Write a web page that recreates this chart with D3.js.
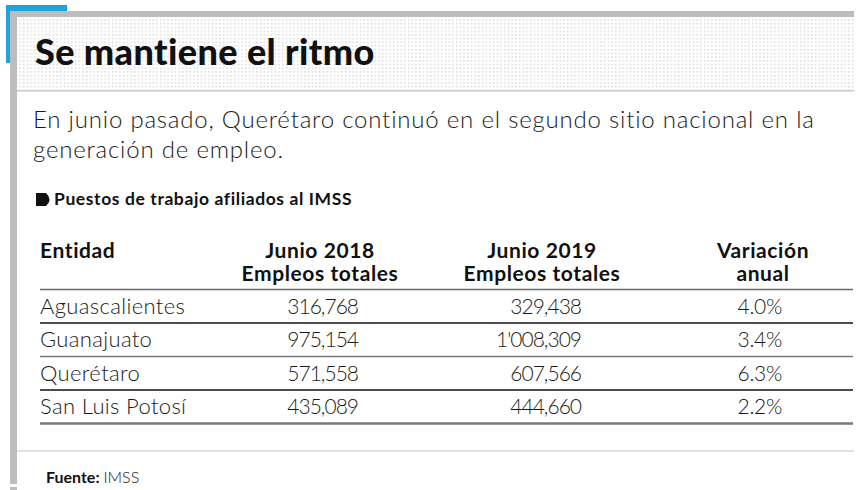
<!DOCTYPE html>
<html><head><meta charset="utf-8">
<script src="https://cdn.jsdelivr.net/npm/d3@7"></script>
<style>
html,body{margin:0;padding:0;background:#fff;}
svg{display:block;}
text{font-family:Lato,"Open Sans",sans-serif;}
</style></head>
<body><div id="chart"></div>
<script>
const titulo = "Se mantiene el ritmo";
const subtitulo = ["En junio pasado, Querétaro continuó en el segundo sitio nacional en la", "generación de empleo."];
const etiqueta = "Puestos de trabajo afiliados al IMSS";
const encabezados = [["Entidad"], ["Junio 2018", "Empleos totales"], ["Junio 2019", "Empleos totales"], ["Variación", "anual"]];
const entidades = ["Aguascalientes", "Guanajuato", "Querétaro", "San Luis Potosí"];
const empleos2018 = [316768, 975154, 571558, 435089];
const empleos2019 = [329438, 1008309, 607566, 444660];
const variacion = [4.0, 3.4, 6.3, 2.2];
const fuente = "IMSS";

const W = 864, H = 490;
const svg = d3.select("#chart").append("svg").attr("width", W).attr("height", H);

const defs = svg.append("defs");
const pat = defs.append("pattern").attr("id", "dots").attr("patternUnits", "userSpaceOnUse")
  .attr("width", 3.7).attr("height", 3.7);
pat.append("rect").attr("x", 1).attr("y", 1).attr("width", 1.2).attr("height", 1.2).attr("fill", "#c4c4c4");

// frame
svg.append("rect").attr("x", 6).attr("y", 5).attr("width", 61).attr("height", 58).attr("fill", "#1ea4dc");
svg.append("rect").attr("x", 10).attr("y", 11).attr("width", 844).attr("height", 6).attr("fill", "#bdbdbd");
svg.append("rect").attr("x", 10).attr("y", 11).attr("width", 7).attr("height", 473).attr("fill", "#bdbdbd");
svg.append("rect").attr("x", 17).attr("y", 17).attr("width", 837).attr("height", 74).attr("fill", "#fff");
svg.append("rect").attr("x", 17).attr("y", 17).attr("width", 837).attr("height", 74).attr("fill", "url(#dots)");
svg.append("rect").attr("x", 17).attr("y", 90).attr("width", 837).attr("height", 1.5).attr("fill", "#c8c8c8");
svg.append("rect").attr("x", 10).attr("y", 487).attr("width", 7).attr("height", 3).attr("fill", "#bdbdbd");

svg.append("text").attr("x", 35).attr("y", 65).attr("font-size", 36).attr("font-weight", 900)
  .attr("letter-spacing", 0.4).attr("fill", "#111").text(titulo);

svg.selectAll("text.sub").data(subtitulo).join("text").attr("class", "sub")
  .attr("x", 33).attr("y", (d, i) => 128 + i * 30).attr("font-size", 24).attr("font-weight", 300)
  .attr("letter-spacing", 0.8).attr("fill", "#1a1a1a").text(d => d);

svg.append("path").attr("d", "M36,193 H46 Q53,199.5 46,206 H36 Z").attr("fill", "#111");
svg.append("text").attr("x", 54).attr("y", 205).attr("font-size", 17.5).attr("font-weight", 700)
  .attr("letter-spacing", 0.6).attr("fill", "#111").text(etiqueta);

// columns
const colX = d3.scaleOrdinal().domain([0, 1, 2, 3]).range([40, 320, 542, 763]);
const colVal = d3.scaleOrdinal().domain([1, 2, 3]).range([358, 581, 782]);

encabezados.forEach((lines, c) => {
  lines.forEach((l, i) => {
    svg.append("text").attr("x", colX(c)).attr("y", 258 + i * 23)
      .attr("text-anchor", c === 0 ? "start" : "middle")
      .attr("font-size", 21).attr("font-weight", 700).attr("letter-spacing", 0.6)
      .attr("fill", "#111").text(l);
  });
});

const y = d3.scaleBand().domain(entidades).range([289.5, 423.5]);
const lineColor = ["#6a6a6a", "#111", "#777", "#111", "#777"];
const bounds = [y.range()[0]].concat(entidades.map(e => y(e) + y.bandwidth()));
svg.selectAll("line.row").data(bounds).join("line").attr("class", "row")
  .attr("x1", 40).attr("x2", 853).attr("y1", d => d).attr("y2", d => d)
  .attr("stroke", (d, i) => lineColor[i]).attr("stroke-width", (d, i) => i === 4 ? 2.5 : 1.5);

const fmtMiles = v => {
  const s = d3.format(",")(v);
  return v >= 1e6 ? s.replace(",", "'") : s;
};
const fmtPct = v => d3.format(".1f")(v) + "%";

const rows = svg.selectAll("g.r").data(entidades).join("g").attr("class", "r")
  .attr("transform", d => `translate(0,${y(d) + y.bandwidth() / 2 + 7.5})`);
rows.append("text").attr("x", colX(0)).attr("font-size", 22).attr("font-weight", 300)
  .attr("letter-spacing", 0.35).attr("fill", "#1a1a1a").text(d => d);
rows.append("text").attr("x", colVal(1)).attr("text-anchor", "end").attr("font-size", 21).attr("font-weight", 300)
  .attr("letter-spacing", -1).attr("fill", "#1a1a1a").text((d, i) => fmtMiles(empleos2018[i]));
rows.append("text").attr("x", colVal(2)).attr("text-anchor", "end").attr("font-size", 21).attr("font-weight", 300)
  .attr("letter-spacing", -1).attr("fill", "#1a1a1a").text((d, i) => fmtMiles(empleos2019[i]));
rows.append("text").attr("x", colVal(3)).attr("text-anchor", "end").attr("font-size", 21).attr("font-weight", 300)
  .attr("letter-spacing", -0.3).attr("fill", "#1a1a1a").text((d, i) => fmtPct(variacion[i]));

svg.append("line").attr("x1", 17).attr("x2", 854).attr("y1", 451).attr("y2", 451).attr("stroke", "#c4c4c4").attr("stroke-width", 1.2);

const f = svg.append("text").attr("x", 46).attr("y", 483).attr("font-size", 16).attr("fill", "#111");
f.append("tspan").attr("font-weight", 700).text("Fuente: ");
f.append("tspan").attr("font-weight", 300).text(fuente);
</script></body></html>
